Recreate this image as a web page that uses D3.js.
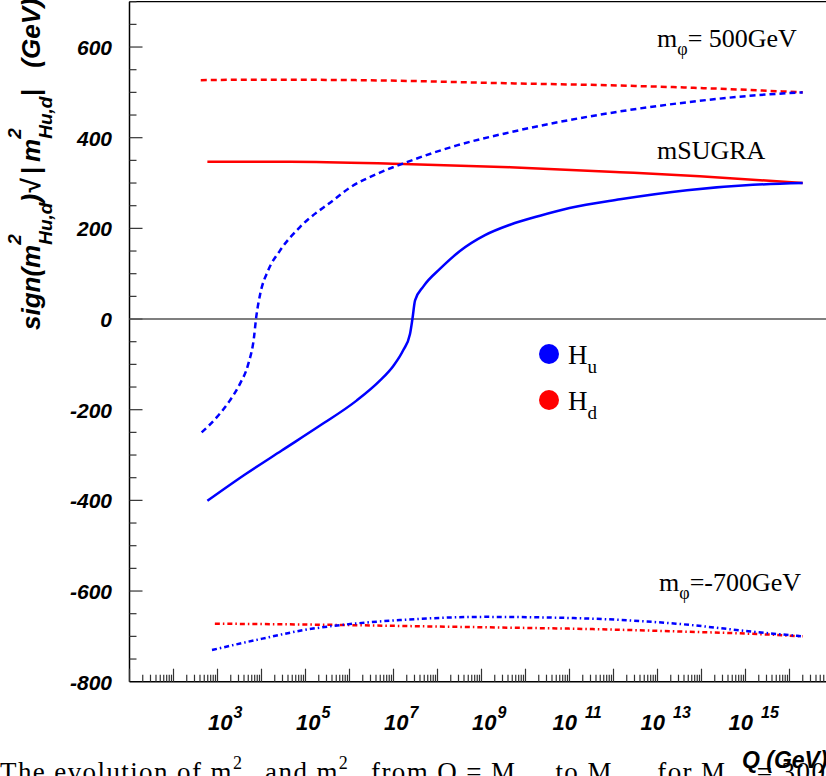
<!DOCTYPE html>
<html>
<head>
<meta charset="utf-8">
<script src="https://cdn.jsdelivr.net/npm/d3@7"></script>
<style>
  html, body { margin: 0; padding: 0; background: #fff; }
  svg { display: block; }
</style>
</head>
<body>
<svg id="chart" width="826" height="776"></svg>
<script>
// ---------------- DATA (log10 Q in GeV, value in GeV) ----------------
const yTickValues = [600, 400, 200, 0, -200, -400, -600, -800];
const xLabelExponents = [3, 5, 7, 9, 11, 13, 15];

// mSUGRA
const sugraHuLogQ = [2.77, 3.625, 4.46, 5.33, 6.16, 6.69, 7.0, 7.22, 7.375, 7.43, 7.49, 7.68, 8.06, 8.51, 9.08, 9.65, 10.33, 11.0, 12.15, 13.67, 15.17, 16.3];
const sugraHuVal  = [-401, -343, -290, -235, -180, -136, -103, -69, -33, 0, 41, 72, 111, 150, 185, 208, 228, 245, 264, 284, 296, 300];
const sugraHdLogQ = [2.77, 4.65, 7.22, 9.65, 12.15, 13.96, 16.3];
const sugraHdVal  = [347, 347, 342, 335, 324, 315, 300];

// m_phi = 500 GeV
const p500HuLogQ = [2.64, 2.98, 3.28, 3.51, 3.70, 3.83, 3.875, 3.97, 4.15, 4.42, 4.875, 5.63, 6.01, 6.62, 7.30, 8.44, 9.65, 12.15, 13.66, 15.17, 16.3];
const p500HuVal  = [-250, -217, -180, -143, -99, -40, 0, 55, 107, 151, 203, 262, 290, 320, 346, 383, 412, 458, 478, 493, 500];
const p500HdLogQ = [2.62, 4.0, 6.16, 9.65, 12.15, 14.42, 16.3];
const p500HdVal  = [527, 528, 527, 520, 515, 508, 500];

// m_phi = -700 GeV
const m700HuLogQ = [2.875, 4.02, 4.97, 5.9, 7.15, 9.1, 11.53, 13.42, 15.3, 16.3];
const m700HuVal  = [-730, -705, -686, -674, -664, -657, -661, -672, -691, -700];
const m700HdLogQ = [2.94, 5.9, 7.15, 9.1, 11.53, 13.42, 15.3, 16.3];
const m700HdVal  = [-672, -675, -677, -680, -684, -689, -695, -700];

// ---------------- SETUP ----------------
const svg = d3.select("#chart");
const X0 = 129.5, DEC = 44;
const x = d3.scaleLog().domain([10, 1e17]).range([X0, X0 + 16 * DEC]);
const y = d3.scaleLinear().domain([-800, 700]).range([681.7, 1.7]);
const W = 826;
const SANS = "'Liberation Sans', Arial, Helvetica, sans-serif";
const SERIF = "'Liberation Serif', 'Times New Roman', serif";

const BLUE = "#0000ff", RED = "#ff0000";

// helper for rich text: pieces {t, size, off (baseline offset), stack (same x as previous)}
function rich(g, pieces, family, weight, style, extra) {
  let cursor = 0, lastStart = 0;
  pieces.forEach(p => {
    const start = p.stack ? lastStart : cursor;
    const t = g.append("text")
      .attr("x", start).attr("y", p.off || 0)
      .attr("font-family", family)
      .attr("font-weight", weight)
      .attr("font-style", style)
      .attr("font-size", p.size)
      .attr("fill", "#000")
      .style("white-space", "pre")
      .text(p.t);
    if (extra && !p.noExtra) extra(t);
    const len = t.node().getComputedTextLength();
    if (p.stack) {
      cursor = Math.max(cursor, start + len);
    } else {
      lastStart = start;
      cursor = start + len;
    }
  });
  return cursor;
}

// ---------------- FRAME ----------------
svg.append("line").attr("x1", X0).attr("x2", X0).attr("y1", y(700)).attr("y2", y(-800))
  .attr("stroke", "#000").attr("stroke-width", 1.5);
svg.append("line").attr("x1", X0).attr("x2", W).attr("y1", y(-800)).attr("y2", y(-800))
  .attr("stroke", "#000").attr("stroke-width", 1.5);
svg.append("line").attr("x1", X0).attr("x2", W).attr("y1", y(700)).attr("y2", y(700))
  .attr("stroke", "#000").attr("stroke-width", 1.2);

// y ticks (every 50, major every 200)
const yTicksAll = d3.range(-750, 701, 50);
svg.append("g").selectAll("line").data(yTicksAll).join("line")
  .attr("x1", X0).attr("x2", d => X0 + (((d + 800) % 200 === 0) ? 13 : 7))
  .attr("y1", d => y(d)).attr("y2", d => y(d))
  .attr("stroke", "#333").attr("stroke-width", 1.2);

svg.append("g").selectAll("text").data(yTickValues).join("text")
  .attr("x", 112).attr("y", d => y(d) + 8)
  .attr("text-anchor", "end")
  .attr("font-family", SANS).attr("font-weight", "bold").attr("font-style", "italic")
  .attr("font-size", 21)
  .text(d => d);

// x ticks
const xTicksAll = [];
for (let e = 1; e <= 16; e++) {
  for (let m = 1; m <= 9; m++) {
    const v = m * Math.pow(10, e);
    if (v <= 1e17) xTicksAll.push({v, major: m === 1});
  }
}
xTicksAll.push({v: 1e17, major: true});
svg.append("g").selectAll("line").data(xTicksAll.filter(d => x(d.v) <= W)).join("line")
  .attr("x1", d => x(d.v)).attr("x2", d => x(d.v))
  .attr("y1", y(-800)).attr("y2", d => y(-800) - (d.major ? 13 : 7))
  .attr("stroke", "#333").attr("stroke-width", 1.2);

// x tick labels 10^n
const xl = svg.append("g");
xLabelExponents.forEach(e => {
  const tx = x(Math.pow(10, e));
  const two = e >= 10;
  const t = xl.append("text")
    .attr("x", tx - (two ? 17 : 9.5)).attr("y", 730)
    .attr("font-family", SANS).attr("font-weight", "bold").attr("font-style", "italic")
    .attr("font-size", 22);
  t.append("tspan").text("10");
  t.append("tspan").attr("dx", two ? 8 : 1).attr("dy", -12).attr("font-size", 16).text(e);
});

// x axis title
svg.append("text").attr("x", 742).attr("y", 768)
  .attr("font-family", SANS).attr("font-weight", "bold").attr("font-style", "italic")
  .attr("font-size", 23).text("Q (GeV)");

// y axis title (rotated)
const yt = svg.append("g").attr("transform", "translate(40,330) rotate(-90)");
rich(yt, [
  {t: "sign(m", size: 26},
  {t: "Hu,d", size: 19, off: 12},
  {t: "2", size: 19, off: -19, stack: true},
  {t: ")\u221A\u2009|\u2009m", size: 26},
  {t: "Hu,d", size: 19, off: 12},
  {t: "2", size: 19, off: -19, stack: true},
  {t: "|   (GeV)", size: 26}
], SANS, "bold", "italic");

// zero line
svg.append("line").attr("x1", X0).attr("x2", W).attr("y1", y(0)).attr("y2", y(0))
  .attr("stroke", "#555").attr("stroke-width", 1.5);

// ---------------- CURVES ----------------
const line = d3.line()
  .x(d => x(Math.pow(10, d[0])))
  .y(d => y(d[1]))
  .curve(d3.curveMonotoneX);

const series = [
  {q: sugraHdLogQ, v: sugraHdVal, c: RED, dash: null},
  {q: sugraHuLogQ, v: sugraHuVal, c: BLUE, dash: null},
  {q: p500HdLogQ, v: p500HdVal, c: RED, dash: "6,4"},
  {q: p500HuLogQ, v: p500HuVal, c: BLUE, dash: "6,4"},
  {q: m700HdLogQ, v: m700HdVal, c: RED, dash: "5,3,1.5,3"},
  {q: m700HuLogQ, v: m700HuVal, c: BLUE, dash: "5,3,1.5,3"}
];
svg.append("g").selectAll("path").data(series).join("path")
  .attr("d", s => line(s.q.map((q, i) => [q, s.v[i]])))
  .attr("fill", "none")
  .attr("stroke", s => s.c)
  .attr("stroke-width", 2.5)
  .attr("stroke-dasharray", s => s.dash);

// ---------------- LEGEND ----------------
const legend = [{c: BLUE, sub: "u", cy: 354}, {c: RED, sub: "d", cy: 400}];
legend.forEach(l => {
  svg.append("circle").attr("cx", 549).attr("cy", l.cy).attr("r", 10).attr("fill", l.c);
  const g = svg.append("g").attr("transform", `translate(568,${l.cy + 10})`);
  rich(g, [{t: "H", size: 27}, {t: l.sub, size: 19, off: 9}], SERIF, "normal", "normal");
});

// ---------------- ANNOTATIONS ----------------
const a1 = svg.append("g").attr("transform", "translate(657,47)");
rich(a1, [{t: "m", size: 26}, {t: "\u03C6", size: 18, off: 8}, {t: "= 500GeV", size: 26}], SERIF, "normal", "normal");
const a2 = svg.append("g").attr("transform", "translate(657,159)");
rich(a2, [{t: "mSUGRA", size: 26}], SERIF, "normal", "normal");
const a3 = svg.append("g").attr("transform", "translate(659,591)");
rich(a3, [{t: "m", size: 26}, {t: "\u03C6", size: 18, off: 8}, {t: "=-700GeV", size: 26}], SERIF, "normal", "normal");

// ---------------- CAPTION (partially visible) ----------------
const cap = svg.append("g").attr("transform", "translate(0,781)");
rich(cap, [
  {t: "The evolution of m", size: 27},
  {t: "Hu", size: 13, off: 8, noExtra: true},
  {t: "2", size: 18, off: -12, stack: true, noExtra: true},
  {t: "  and m", size: 27},
  {t: "Hd", size: 13, off: 8, noExtra: true},
  {t: "2", size: 18, off: -12, stack: true, noExtra: true},
  {t: "  from Q = M", size: 27},
  {t: "GUT", size: 11, off: 8, noExtra: true},
  {t: "  to M", size: 27},
  {t: "SUSY", size: 11, off: 8, noExtra: true},
  {t: "  for M", size: 27},
  {t: "1/2", size: 11, off: 8, noExtra: true},
  {t: "  = 300 GeV", size: 27}
], SERIF, "normal", "normal", t => t.attr("letter-spacing", 1.4));
</script>
</body>
</html>
